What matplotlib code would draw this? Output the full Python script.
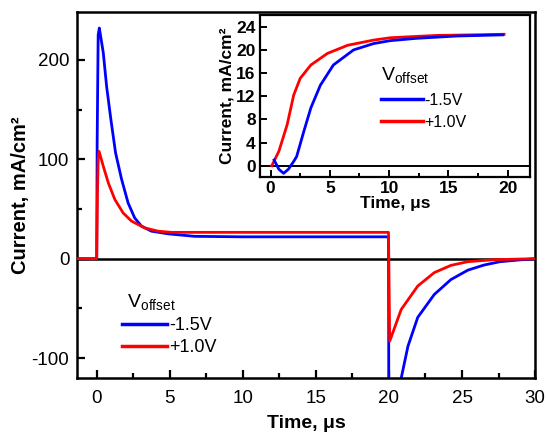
import matplotlib
matplotlib.use('Agg')
import matplotlib.pyplot as plt
from matplotlib.lines import Line2D
from matplotlib.ticker import MultipleLocator

plt.rcParams['font.family'] = 'Liberation Sans'
plt.rcParams['mathtext.fontset'] = 'custom'
plt.rcParams['mathtext.rm'] = 'Liberation Sans'
plt.rcParams['mathtext.it'] = 'Liberation Sans:italic'
plt.rcParams['mathtext.bf'] = 'Liberation Sans:bold'
plt.rcParams['axes.unicode_minus'] = False

# main panel: full pulse response
t_neg = [-1.35, 0.0, 0.03, 0.1, 0.18, 0.45, 0.68, 0.97, 1.29, 1.7, 2.15, 2.6, 3.06,
         3.74, 4.9, 6.7, 10.0, 15.0, 19.97, 20.0, 20.84, 21.3, 21.97, 23.1, 24.24,
         25.4, 26.5, 27.6, 28.8, 30.0]
i_neg = [0, 0, 117, 225, 232, 207, 173, 140, 106.5, 80, 56, 41, 32.8,
         27.7, 25, 22.5, 22, 22, 22, -240, -120, -88, -59, -36, -21,
         -11.5, -6.4, -3, -1.4, 0]
t_pos = [-1.35, 0.0, 0.05, 0.1, 0.16, 0.45, 0.8, 1.24, 1.81, 2.38, 3.28, 4.2,
         5.1, 7.1, 10.0, 15.0, 19.97, 20.05, 20.84, 21.97, 23.1, 24.24, 25.4,
         27.2, 30.0]
i_pos = [0, 0, 65, 100, 108, 93, 76, 59.6, 46, 37.8, 31, 27.7,
         26.5, 26.5, 26.5, 26.5, 26.5, -83, -51, -27.5, -14, -6.7, -3,
         -1, 0]

# inset: rise of the current during the pulse
ti_neg = [0.3, 0.7, 1.1, 1.5, 1.95, 2.2, 2.8, 3.4, 4.2, 5.3, 7.0, 8.7, 10.1,
          12.3, 15.7, 19.6]
ii_neg = [1.0, -0.6, -1.3, -0.6, 0.75, 1.6, 5.9, 10.0, 13.9, 17.4, 20.0, 21.1,
          21.6, 22.0, 22.4, 22.6]
ti_pos = [0.1, 0.7, 1.4, 1.95, 2.5, 3.4, 4.8, 6.5, 8.7, 10.1, 12.0, 14.0,
          17.0, 19.7]
ii_pos = [0.0, 2.5, 7.1, 12.2, 15.1, 17.4, 19.4, 20.8, 21.7, 22.1, 22.3, 22.5,
          22.6, 22.7]

labels = ['-1.5V', '+1.0V']
colors = ['#0000ff', '#ff0000']

fig = plt.figure(figsize=(5.46, 4.33), dpi=100)
ax = fig.add_axes([0.141, 0.127, 0.839, 0.845])

ax.axhline(0, color='k', lw=1.8, zorder=1)
ax.plot(t_neg, i_neg, color=colors[0], lw=2, zorder=2)
ax.plot(t_pos, i_pos, color=colors[1], lw=2, zorder=3)
ax.set_xlim(-1.35, 30)
ax.set_ylim(-120, 248)
ax.xaxis.set_major_locator(MultipleLocator(5))
ax.xaxis.set_minor_locator(MultipleLocator(2.5))
ax.yaxis.set_major_locator(MultipleLocator(100))
ax.yaxis.set_minor_locator(MultipleLocator(50))
ax.tick_params(which='both', direction='in', width=1.6, labelsize=13.5)
ax.tick_params(which='major', length=6)
ax.tick_params(which='minor', length=3.5)
ax.tick_params(axis='x', pad=8.5)
ax.tick_params(axis='y', pad=5.5)
for s in ax.spines.values():
    s.set_linewidth(1.8)
ax.set_xlabel('Time, \u03bcs', fontsize=14, fontweight='bold', labelpad=6)
ax.set_ylabel('Current, mA/cm\u00b2', fontsize=14.5, fontweight='bold', labelpad=1)

handles = [Line2D([0], [0], color=c, lw=2.5) for c in colors]
ax.legend(handles, labels, title=r' V$_{\rm offset}$', loc='upper left',
          bbox_to_anchor=(0.098, 0.236), frameon=False, fontsize=13,
          title_fontsize=14, alignment='left', handlelength=2.5,
          handletextpad=0.1, labelspacing=0.3, borderpad=0, borderaxespad=0)

# inset
ins = fig.add_axes([0.476, 0.591, 0.495, 0.374])
ins.axhline(0, color='k', lw=1.4, zorder=1)
ins.plot(ti_pos, ii_pos, color=colors[1], lw=2, zorder=2)
ins.plot(ti_neg, ii_neg, color=colors[0], lw=2, zorder=3)
ins.set_xlim(-0.9, 21.9)
ins.set_ylim(-1.95, 26)
ins.xaxis.set_major_locator(MultipleLocator(5))
ins.xaxis.set_minor_locator(MultipleLocator(2.5))
ins.yaxis.set_major_locator(MultipleLocator(4))
ins.tick_params(which='both', direction='in', width=1.4, labelsize=12.5, pad=3)
ins.tick_params(which='major', length=5)
ins.tick_params(which='minor', length=3)
for lab in ins.get_xticklabels() + ins.get_yticklabels():
    lab.set_fontweight('bold')
for s in ins.spines.values():
    s.set_linewidth(1.6)
ins.set_xlabel('Time, \u03bcs', fontsize=12.5, fontweight='bold', labelpad=0)
ins.set_ylabel('Current, mA/cm\u00b2', fontsize=12.5, fontweight='bold', labelpad=1)
ins.legend(handles, labels, title=r'V$_{\rm offset}$', loc='upper left',
           bbox_to_anchor=(0.448, 0.69), frameon=False, fontsize=11.5,
           title_fontsize=14, alignment='left', handlelength=2.6,
           handletextpad=0.1, labelspacing=0.45, borderpad=0, borderaxespad=0)

fig.savefig('out.png', dpi=100)
